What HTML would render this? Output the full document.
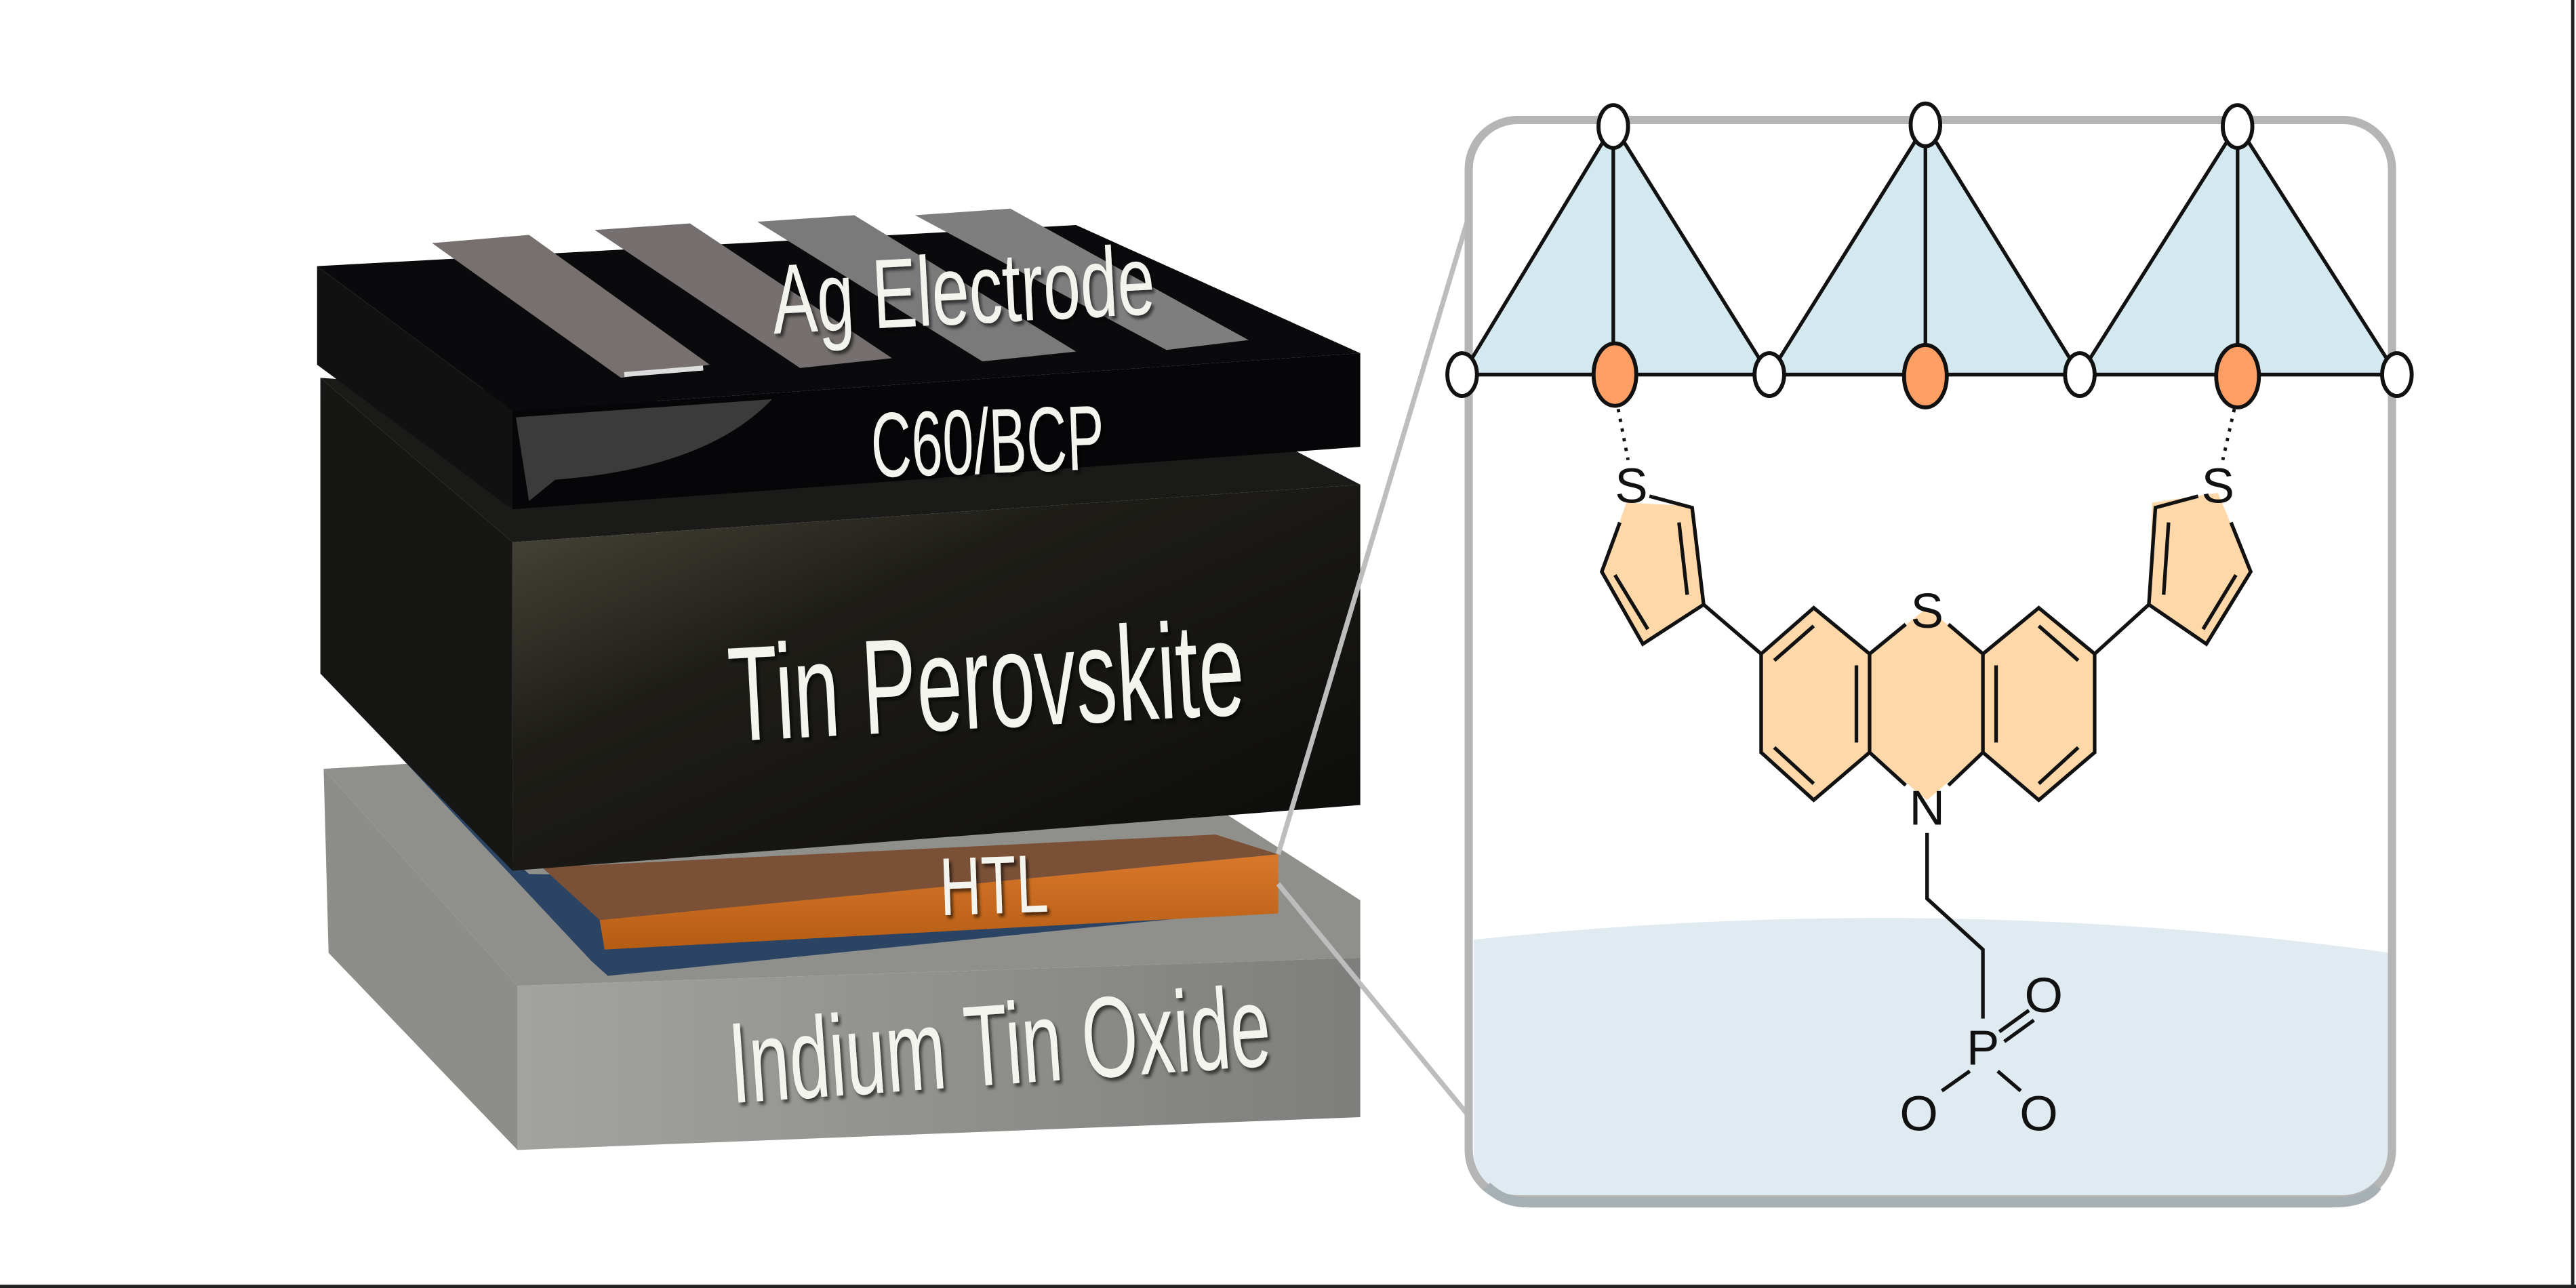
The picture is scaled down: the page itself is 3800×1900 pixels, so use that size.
<!DOCTYPE html>
<html><head><meta charset="utf-8"><style>
html,body{margin:0;padding:0;background:#fff;width:3800px;height:1900px;overflow:hidden}
svg{display:block}
.lbl{font-family:"Liberation Sans",sans-serif;fill:#f4f4ee}
.at{font-family:"Liberation Sans",sans-serif;fill:#111;font-size:30px}
</style></head><body>
<svg width="3800" height="1900" viewBox="0 0 1568 784" preserveAspectRatio="none" xmlns="http://www.w3.org/2000/svg">
<defs>
<linearGradient id="pv" x1="0" y1="0" x2="1" y2="1">
<stop offset="0" stop-color="#4d4a3c"/><stop offset="0.35" stop-color="#1e1d18"/><stop offset="1" stop-color="#0b0b0a"/></linearGradient>
<linearGradient id="ito" x1="0" y1="0" x2="1" y2="0">
<stop offset="0" stop-color="#a3a39f"/><stop offset="1" stop-color="#7e7e7c"/></linearGradient>
<linearGradient id="htl" x1="0" y1="0" x2="0" y2="1">
<stop offset="0" stop-color="#d9782a"/><stop offset="1" stop-color="#b45c14"/></linearGradient>
<filter id="sh"><feDropShadow dx="1.5" dy="2" stdDeviation="1" flood-color="#000" flood-opacity="0.6"/></filter>
</defs>
<rect width="1568" height="784" fill="#fff"/>
<line x1="1566" y1="0" x2="1566" y2="784" stroke="#222" stroke-width="2"/>
<line x1="0" y1="783" x2="1568" y2="783" stroke="#222" stroke-width="2"/>

<!-- ITO -->
<polygon points="197,468 660,440 828,548 828,583 315,600" fill="#8f8f8c"/>
<polygon points="197,468 315,600 315,700 200,580" fill="#8d8d8a"/>
<polygon points="315,600 828,583 828,680 315,700" fill="url(#ito)"/>
<!-- blue layer -->
<polygon points="243,460 322,532 778,540 778,553 370,594 360,585" fill="#2b4464"/>
<!-- HTL -->
<polygon points="330,528 740,508 778,520 365,560" fill="#7a5036"/>
<polygon points="365,560 778,520 778,556 368,578" fill="url(#htl)"/>
<!-- Perovskite -->
<polygon points="195,230 780,270 828,295 312,330" fill="#1a1a18"/>
<polygon points="195,230 312,330 312,530 245,462 195,410" fill="#161614"/>
<polygon points="312,330 828,295 828,490 312,530" fill="url(#pv)"/>
<!-- C60 -->
<polygon points="193,162 655,137 828,215 312,250" fill="#0a0a0c"/>
<polygon points="193,162 312,250 312,310 193,222" fill="#111"/>
<polygon points="312,250 828,215 828,272 312,310" fill="#060608"/>
<path d="M314,254 L470,243 Q430,285 338,292 L322,305 Z" fill="#3b3b3b"/>
<!-- Ag strips -->
<polygon points="263,148 322,143 432,222 378,230" fill="#77706f"/>
<polygon points="362,140 420,136 543,218 487,224" fill="#756f6f"/>
<polygon points="461,135 520,131 655,214 598,220" fill="#7a7a7a"/>
<polygon points="557,131 615,127 760,207 710,213" fill="#7e7e7e"/>
<line x1="380" y1="228" x2="428" y2="224" stroke="#ddd" stroke-width="3"/>

<!-- labels -->
<g filter="url(#sh)">
<text class="lbl" x="470" y="197" font-size="60" textLength="233" lengthAdjust="spacingAndGlyphs" transform="rotate(-3 587 180)">Ag Electrode</text>
<text class="lbl" x="530" y="288" font-size="56" textLength="142" lengthAdjust="spacingAndGlyphs" transform="rotate(-2 600 265)">C60/BCP</text>
<text class="lbl" x="443" y="443" font-size="82" textLength="314" lengthAdjust="spacingAndGlyphs" transform="rotate(-3 600 410)">Tin Perovskite</text>
<text class="lbl" x="572" y="556" font-size="50" textLength="66" lengthAdjust="spacingAndGlyphs" transform="rotate(-2 605 540)">HTL</text>
<text class="lbl" x="443" y="660" font-size="70" textLength="330" lengthAdjust="spacingAndGlyphs" transform="rotate(-4 608 630)">Indium Tin Oxide</text>
</g>

<!-- connectors -->
<line x1="778" y1="520" x2="893" y2="135" stroke="#bdbdbd" stroke-width="3"/>
<line x1="778" y1="538" x2="893" y2="678" stroke="#bdbdbd" stroke-width="3"/>

<!-- panel -->
<path d="M897,572 Q1180,542 1455,580 L1455,700 Q1455,730 1425,730 L925,730 Q897,730 897,700 Z" fill="#dfebf0"/>
<rect x="894" y="73" width="562" height="657" rx="30" fill="none" stroke="#b5b5b5" stroke-width="5"/>
<path d="M905,722 Q915,732 930,732 L1420,732 Q1440,732 1447,722" fill="none" stroke="#a7b1b5" stroke-width="6"/>

<!-- triangles -->
<g stroke="#111" stroke-width="2.2" fill="#d3e8ef">
<polygon points="890,228 982,76 1077,228"/>
<polygon points="1077,228 1172,76 1266,228"/>
<polygon points="1266,228 1362,76 1459,228"/>
<line x1="890" y1="228" x2="1459" y2="228"/>
<line x1="982" y1="76" x2="982" y2="228"/>
<line x1="1172" y1="76" x2="1172" y2="228"/>
<line x1="1362" y1="76" x2="1362" y2="228"/>
</g>
<g stroke="#111" stroke-width="2.4" fill="#fff">
<ellipse cx="982" cy="77" rx="9" ry="13"/><ellipse cx="1172" cy="76" rx="9" ry="13"/><ellipse cx="1362" cy="77" rx="9" ry="13"/>
<ellipse cx="890" cy="228" rx="9" ry="13"/><ellipse cx="1077" cy="228" rx="9" ry="13"/><ellipse cx="1266" cy="228" rx="9" ry="13"/><ellipse cx="1459" cy="228" rx="9" ry="13"/>
</g>
<g stroke="#111" stroke-width="2.4" fill="#fd9e64">
<ellipse cx="983" cy="228" rx="13" ry="19"/><ellipse cx="1172" cy="229" rx="13" ry="19"/><ellipse cx="1362" cy="229" rx="13" ry="19"/>
</g>
<line x1="985" y1="249" x2="991" y2="280" stroke="#111" stroke-width="2" stroke-dasharray="2,4"/>
<line x1="1360" y1="249" x2="1353" y2="280" stroke="#111" stroke-width="2" stroke-dasharray="2,4"/>

<!-- molecule fills -->
<g fill="#fed8a8" stroke="none">
<polygon points="990,306 1030,308 1037,368 1000,392 975,348"/>
<polygon points="1310,306 1350,300 1370,348 1343,392 1308,368"/>
<polygon points="1072,398 1104,370 1138,398 1173,370 1207,398 1241,370 1275,398 1275,458 1241,487 1207,458 1173,487 1138,458 1104,487 1072,458"/>
</g>
<g stroke="#111" stroke-width="2.2" fill="none" stroke-linejoin="miter">
<polyline points="1004,302 1030,309 1037,368 1000,392 975,348 986,318"/>
<line x1="1022" y1="318" x2="1027" y2="362"/>
<line x1="983" y1="350" x2="1003" y2="383"/>
<line x1="1037" y1="368" x2="1072" y2="398"/>
<polyline points="1338,302 1312,309 1308,368 1343,392 1370,348 1358,318"/>
<line x1="1320" y1="318" x2="1317" y2="362"/>
<line x1="1361" y1="350" x2="1341" y2="383"/>
<line x1="1308" y1="368" x2="1275" y2="398"/>
<polyline points="1138,398 1104,370 1072,398 1072,458 1104,487 1138,458 1138,398"/>
<line x1="1104" y1="381" x2="1080" y2="402"/>
<line x1="1130" y1="405" x2="1130" y2="452"/>
<line x1="1080" y1="455" x2="1104" y2="477"/>
<polyline points="1207,398 1241,370 1275,398 1275,458 1241,487 1207,458 1207,398"/>
<line x1="1241" y1="381" x2="1265" y2="402"/>
<line x1="1215" y1="405" x2="1215" y2="452"/>
<line x1="1265" y1="455" x2="1241" y2="477"/>
<line x1="1138" y1="398" x2="1160" y2="380"/>
<line x1="1207" y1="398" x2="1186" y2="380"/>
<line x1="1138" y1="458" x2="1160" y2="478"/>
<line x1="1207" y1="458" x2="1186" y2="478"/>
<polyline points="1173,507 1173,547 1207,578 1207,620"/>
<line x1="1217" y1="628" x2="1235" y2="615"/>
<line x1="1220" y1="634" x2="1238" y2="621"/>
<line x1="1199" y1="652" x2="1182" y2="664"/>
<line x1="1216" y1="652" x2="1230" y2="664"/>
</g>
<g class="at" text-anchor="middle">
<text x="993" y="306">S</text>
<text x="1350" y="306">S</text>
<text x="1173" y="382">S</text>
<text x="1173" y="502">N</text>
<text x="1207" y="648">P</text>
<text x="1244" y="616">O</text>
<text x="1168" y="688">O</text>
<text x="1241" y="688">O</text>
</g>
</svg>
</body></html>
